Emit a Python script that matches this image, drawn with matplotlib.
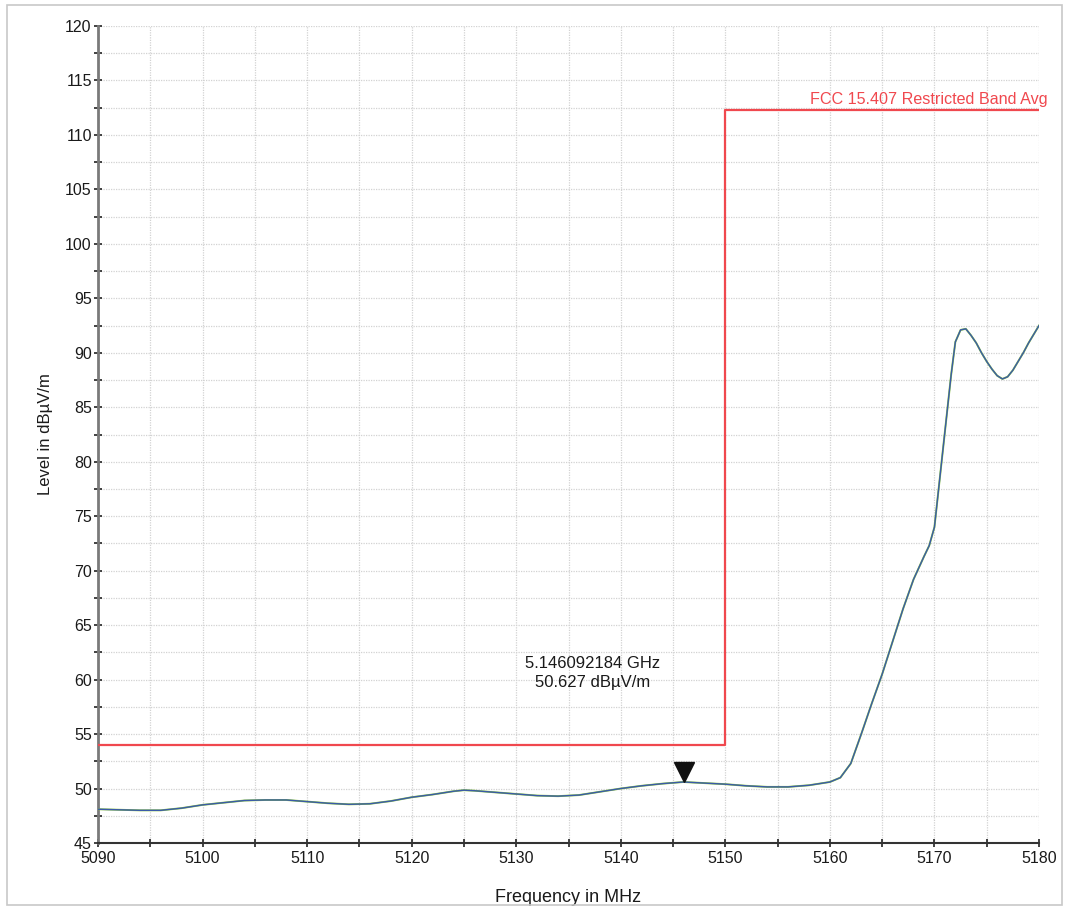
import matplotlib
matplotlib.use("Agg")
import matplotlib.pyplot as plt
import matplotlib.transforms as mtransforms
from matplotlib.ticker import MultipleLocator
from matplotlib.patches import Rectangle

plt.rcParams['font.family'] = ['Liberation Sans', 'DejaVu Sans']

# ---- data ----
freq_mhz = [5090, 5092, 5094, 5096, 5098, 5100, 5102, 5104, 5106, 5108, 5110, 5112,
            5114, 5116, 5118, 5120, 5122, 5124, 5125, 5126, 5128, 5130, 5132, 5134,
            5136, 5138, 5140, 5142, 5144, 5146, 5148, 5150, 5152, 5154, 5156, 5158,
            5160, 5161, 5162, 5163, 5164, 5165, 5166, 5167, 5168, 5169, 5169.5,
            5170, 5170.4, 5170.8, 5171.2, 5171.6, 5172, 5172.5, 5173, 5173.5, 5174,
            5174.5, 5175, 5175.5, 5176, 5176.5, 5177, 5177.5, 5178, 5178.5, 5179,
            5179.5, 5180]
level_dbuv = [48.1, 48.05, 48.0, 48.0, 48.2, 48.5, 48.7, 48.9, 48.95, 48.95, 48.8, 48.65,
              48.55, 48.6, 48.85, 49.2, 49.45, 49.75, 49.85, 49.8, 49.65, 49.5, 49.35, 49.3,
              49.4, 49.7, 50.0, 50.25, 50.45, 50.6, 50.5, 50.4, 50.25, 50.15, 50.15, 50.3,
              50.6, 51.0, 52.3, 55.0, 57.8, 60.5, 63.5, 66.5, 69.2, 71.3, 72.3,
              74.0, 77.5, 81.0, 84.5, 88.0, 91.0, 92.1, 92.2, 91.6, 90.9,
              90.0, 89.2, 88.5, 87.9, 87.6, 87.8, 88.4, 89.2, 90.0, 90.9,
              91.7, 92.5]

limit_freq = [5090, 5150, 5150, 5180]
limit_level = [54.0, 54.0, 112.3, 112.3]
limit_label = "FCC 15.407 Restricted Band Avg"

marker_freq = 5146.092184
marker_level = 50.627
marker_text = "5.146092184 GHz\n50.627 dBµV/m"

# ---- figure ----
fig = plt.figure(figsize=(10.68, 9.09), dpi=100)
fig.patches.append(Rectangle((7/1068, 1-905/909), (1062-7)/1068, 900/909,
                             transform=fig.transFigure, fill=False,
                             edgecolor='#c8c8c8', linewidth=1.2))
ax = fig.add_axes([98/1068, 1-843/909, (1039-98)/1068, (843-26)/909])

ax.set_xlim(5090, 5180)
ax.set_ylim(45, 120)
ax.xaxis.set_major_locator(MultipleLocator(10))
ax.xaxis.set_minor_locator(MultipleLocator(5))
ax.yaxis.set_major_locator(MultipleLocator(5))
ax.yaxis.set_minor_locator(MultipleLocator(2.5))

ax.grid(which='both', color='#d2d2d2', linestyle=(0, (1, 1)), linewidth=0.9)
ax.set_axisbelow(True)

for s in ['top', 'right']:
    ax.spines[s].set_visible(False)
ax.spines['left'].set_color('#7a7a7a')
ax.spines['left'].set_linewidth(2)
ax.spines['bottom'].set_color('#333333')
ax.spines['bottom'].set_linewidth(1.5)

ax.tick_params(which='both', direction='inout', length=6, width=1.2, color='#222222',
               labelsize=11.5, labelcolor='#1a1a1a')
ax.tick_params(axis='x', pad=3)
ax.tick_params(axis='y', pad=1.5)

# trace (green under blue)
ax.plot(freq_mhz, level_dbuv, color='#8cc63f', linewidth=1.4, zorder=3)
ax.plot(freq_mhz, level_dbuv, color='#3b5ba8', linewidth=1.0, zorder=4)

# limit line
ax.plot(limit_freq, limit_level, color='#f0484e', linewidth=1.6, zorder=5)
ax.annotate(limit_label, xy=(5180, limit_level[-1]), xytext=(6, 2),
            textcoords='offset points', color='#f0484e', fontsize=11.6,
            ha='right', va='bottom')

# marker (tip touches the trace)
mk, = ax.plot([marker_freq], [marker_level], marker='v', markersize=15,
              color='#111111', linestyle='none', zorder=6)
mk.set_transform(ax.transData + mtransforms.ScaledTranslation(0, 10/100, fig.dpi_scale_trans))

ax.text(5137.3, 60.6, marker_text, ha='center', va='center', fontsize=12,
        color='#1a1a1a', linespacing=1.35)

ax.set_xlabel("Frequency in MHz", fontsize=13, labelpad=16, color='#1a1a1a')
ax.set_ylabel("Level in dBµV/m", fontsize=12, labelpad=9, color='#1a1a1a')

fig.savefig("out.png", dpi=100)
